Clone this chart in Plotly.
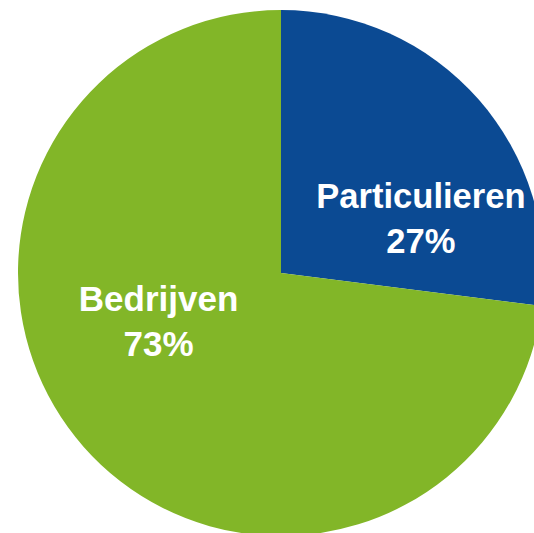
import plotly.graph_objects as go

labels = ["Particulieren", "Bedrijven"]
values = [27, 73]
colors = ["#0B4A93", "#82B628"]
label_rotation = 20  # label placement offset (degrees), mimics the source's label layout

slices = go.Pie(
    labels=labels,
    values=values,
    sort=False,
    direction="clockwise",
    rotation=0,
    marker=dict(colors=colors, line=dict(width=0)),
    textinfo="none",
    hoverinfo="skip",
    showlegend=False,
)

texts = go.Pie(
    labels=labels,
    values=values,
    sort=False,
    direction="clockwise",
    rotation=label_rotation,
    marker=dict(colors=["rgba(0,0,0,0)"] * len(values), line=dict(width=0)),
    texttemplate="<b>%{label}</b><br><b>%{percent:.0%}</b>",
    textposition="inside",
    insidetextorientation="horizontal",
    textfont=dict(family="Liberation Sans, Arial, sans-serif", size=35, color="white"),
    hoverinfo="skip",
    showlegend=False,
)

fig = go.Figure([slices, texts])

fig.update_layout(
    width=544,
    height=536,
    margin=dict(l=18, r=0, t=10, b=0),
    paper_bgcolor="white",
    plot_bgcolor="white",
    showlegend=False,
)

fig.write_html(
    "out.html",
    config={"displayModeBar": False},
    post_script=(
        "document.documentElement.style.margin='0';"
        "document.body.style.margin='0';"
        "var gd=document.getElementById('{plot_id}');"
        "var c=gd.parentElement;"
        "c.style.width='534px';c.style.height='533px';c.style.overflow='hidden';"
        "document.body.style.overflow='hidden';"
    ),
)
